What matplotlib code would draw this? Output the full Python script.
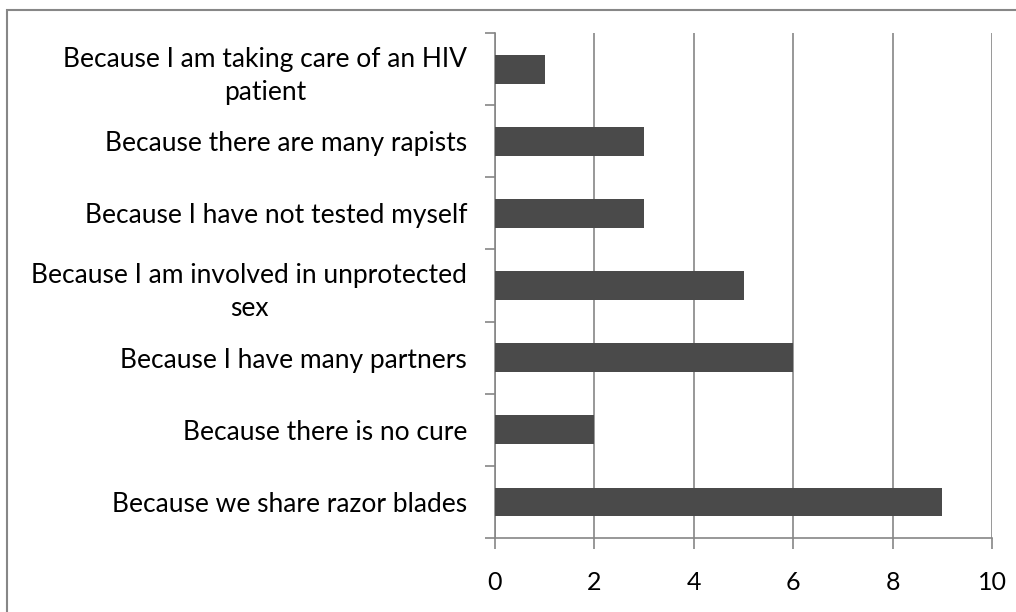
import matplotlib
matplotlib.use('Agg')
import matplotlib.pyplot as plt
from matplotlib.patches import Rectangle

plt.rcParams['font.family'] = ['Lato', 'DejaVu Sans']

labels = ['Because I am taking care of an HIV\npatient',
          'Because there are many rapists',
          'Because I have not tested myself',
          'Because I am involved in unprotected\nsex',
          'Because I have many partners',
          'Because there is no cure',
          'Because we share razor blades']
values = [1, 3, 3, 5, 6, 2, 9]
xticks = [0, 2, 4, 6, 8, 10]

W, H = 1016, 612
fig = plt.figure(figsize=(W / 100, H / 100), dpi=100)
ax = fig.add_axes([495 / W, 1 - 538 / H, (992 - 495) / W, (538 - 33) / H])

grid_col = '#868686'
bar_col = '#4a4a4a'

ypos = list(range(len(labels)))[::-1]
ax.barh(ypos, values, height=0.4, color=bar_col, zorder=3)

ax.set_xlim(0, 10)
ax.set_ylim(-0.5, len(labels) - 0.5)
ax.set_xticks(xticks)
ax.set_xticklabels([str(t) for t in xticks], fontsize=18)
ax.set_yticks(ypos)
ax.set_yticklabels(labels, fontsize=19, multialignment='center', linespacing=1.4)
ax.set_yticks([i - 0.5 for i in range(len(labels) + 1)], minor=True)
ax.tick_params(axis='y', which='major', length=0, pad=20)
ax.tick_params(axis='y', which='minor', length=7, color=grid_col, width=1.2)
ax.tick_params(axis='x', length=8, color=grid_col, width=1.2, pad=16)
ax.grid(axis='x', color=grid_col, linewidth=1.2, zorder=0)

for s in ['top', 'right']:
    ax.spines[s].set_visible(False)
for s in ['left', 'bottom']:
    ax.spines[s].set_color(grid_col)
    ax.spines[s].set_linewidth(1.2)

fig.patches.append(Rectangle((7 / W, -0.1), 1.2, 1 - 10 / H + 0.1, transform=fig.transFigure,
                             fill=False, edgecolor='#878787', linewidth=1.5))

fig.savefig('out.png', dpi=100)
